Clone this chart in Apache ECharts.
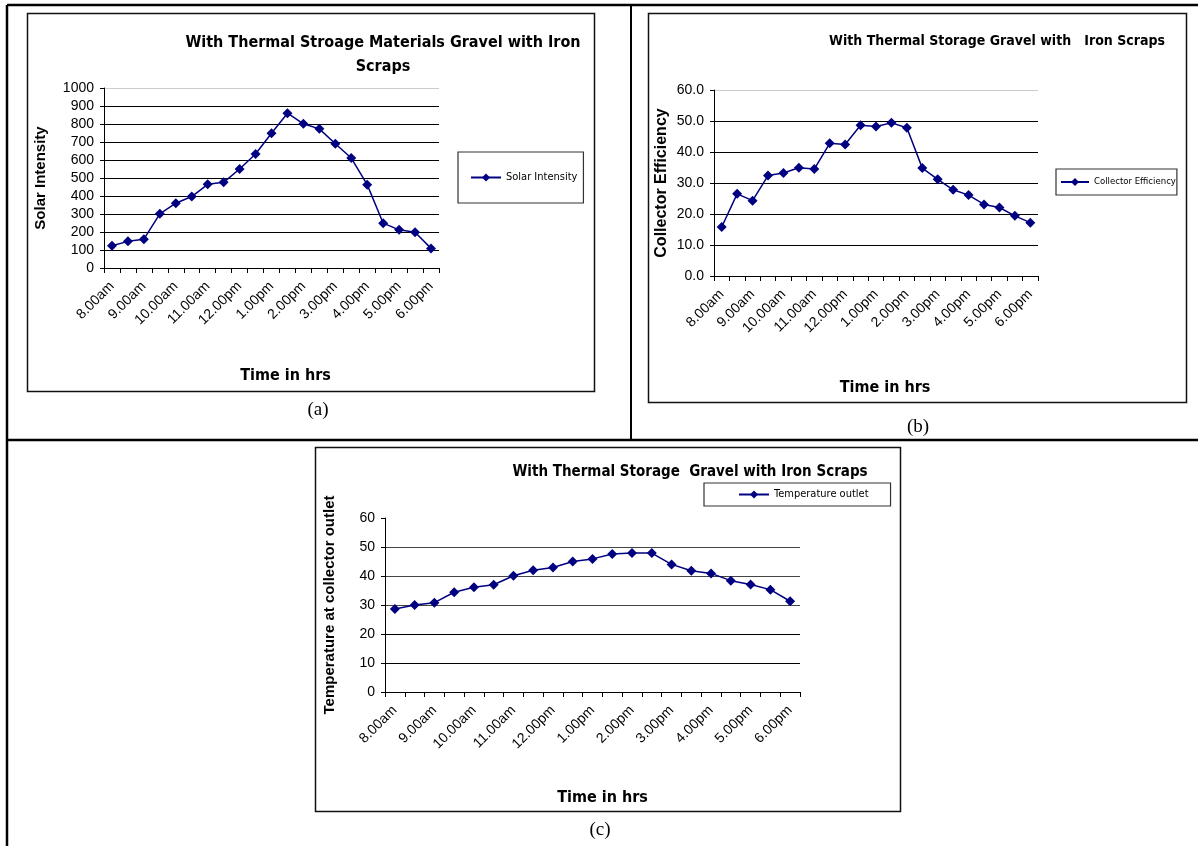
<!DOCTYPE html>
<html>
<head>
<meta charset="utf-8">
<script src="https://cdn.jsdelivr.net/npm/echarts@6/dist/echarts.min.js"></script>
<style>
  html, body { margin: 0; padding: 0; background: #fff; }
  #main { width: 1198px; height: 846px; }
</style>
</head>
<body>
<div id="main"></div>
<script>
// half-hour readings, 8.00am .. 6.00pm
var times = ['8.00am', '8.30am', '9.00am', '9.30am', '10.00am', '10.30am', '11.00am', '11.30am',
    '12.00pm', '12.30pm', '1.00pm', '1.30pm', '2.00pm', '2.30pm', '3.00pm', '3.30pm',
    '4.00pm', '4.30pm', '5.00pm', '5.30pm', '6.00pm'];

var solarIntensity = [124, 148, 160, 301, 360, 397, 465, 476, 550, 633, 749,
    860, 801, 773, 690, 611, 463, 249, 212, 199, 109];

var collectorEfficiency = [15.8, 26.5, 24.3, 32.4, 33.2, 34.9, 34.5, 42.8, 42.4, 48.6, 48.2,
    49.4, 47.8, 34.8, 31.2, 27.8, 26.1, 23.1, 22.1, 19.4, 17.2];

var tempOutlet = [28.6, 30.0, 30.8, 34.4, 36.1, 37.0, 40.1, 42.0, 42.9, 45.0, 45.9,
    47.6, 47.9, 47.9, 44.0, 41.8, 40.9, 38.4, 37.1, 35.3, 31.3];

var NARROW = "'Liberation Sans Narrow', 'DejaVu Sans Condensed', 'Liberation Sans', Arial, sans-serif";
var SANS = "'Liberation Sans', Arial, sans-serif";
var SERIF = "'Liberation Serif', 'Times New Roman', serif";
var NAVY = '#000080';

function xAxisFor(gridIndex, gap, shift) {
    return {
        type: 'category',
        gridIndex: gridIndex,
        data: times,
        boundaryGap: true,
        name: 'Time in hrs',
        nameLocation: 'middle',
        nameGap: gap,
        nameTextStyle: { fontFamily: NARROW, fontWeight: 'bold', fontSize: 16, color: '#000', padding: [0, 0, 0, shift] },
        axisLine: { lineStyle: { color: '#000', width: 1 } },
        axisTick: { show: true, interval: 0, length: 5, lineStyle: { color: '#000' } },
        axisLabel: { interval: 1, rotate: 45, margin: 16, fontFamily: SANS, fontSize: 14, color: '#000' },
        splitLine: { show: false }
    };
}

function yAxisFor(gridIndex, max, name, gap, nameSize, gridColors, fmt) {
    return {
        type: 'value',
        gridIndex: gridIndex,
        min: 0,
        max: max,
        interval: max / (max === 1000 ? 10 : 6),
        name: name,
        nameLocation: 'middle',
        nameGap: gap,
        nameTextStyle: { fontFamily: SANS, fontWeight: 'bold', fontSize: nameSize, color: '#000' },
        axisLine: { show: true, lineStyle: { color: '#000' } },
        axisTick: { show: true, length: 4, lineStyle: { color: '#000' } },
        axisLabel: { margin: 10, fontFamily: SANS, fontSize: 14, color: '#000', formatter: fmt },
        splitLine: { show: true, lineStyle: { color: gridColors, width: 1 } }
    };
}

function lineSeries(name, data, idx) {
    return {
        name: name,
        type: 'line',
        xAxisIndex: idx,
        yAxisIndex: idx,
        data: data,
        symbol: 'diamond',
        symbolSize: 10,
        itemStyle: { color: NAVY },
        lineStyle: { color: NAVY, width: 1.5 },
        animation: false
    };
}

var myChart = echarts.init(document.getElementById('main'));
myChart.setOption({
    backgroundColor: '#fff',
    animation: false,
    title: [
        {
            text: 'With Thermal Stroage Materials Gravel with Iron\nScraps',
            left: 378, top: 26, textAlign: 'center',
            textStyle: { fontFamily: NARROW, fontWeight: 'bold', fontSize: 16, lineHeight: 24, color: '#000', align: 'center' }
        },
        {
            text: 'With Thermal Storage Gravel with   Iron Scraps',
            left: 992, top: 29, textAlign: 'center',
            textStyle: { fontFamily: NARROW, fontWeight: 'bold', fontSize: 14, color: '#000' }
        },
        {
            text: 'With Thermal Storage  Gravel with Iron Scraps',
            left: 685, top: 460, textAlign: 'center',
            textStyle: { fontFamily: NARROW, fontWeight: 'bold', fontSize: 15, color: '#000' }
        }
    ],
    legend: [
        {
            data: ['Solar Intensity'], left: 458, top: 152, orient: 'vertical',
            padding: [20, 6, 20, 12], itemWidth: 30, itemHeight: 10, itemGap: 0,
            borderColor: '#333', borderWidth: 1.2,
            textStyle: { fontFamily: NARROW, fontSize: 11, color: '#000' }
        },
        {
            data: ['Collector Efficiency'], left: 1056, top: 169, orient: 'vertical',
            padding: [8, 1, 8, 4], itemWidth: 28, itemHeight: 10, itemGap: 0,
            borderColor: '#333', borderWidth: 1.2,
            textStyle: { fontFamily: NARROW, fontSize: 9.5, color: '#000' }
        },
        {
            data: ['Temperature outlet'], left: 704, top: 483, orient: 'vertical',
            padding: [6, 22, 6, 34], itemWidth: 30, itemHeight: 10, itemGap: 0,
            borderColor: '#333', borderWidth: 1.2,
            textStyle: { fontFamily: NARROW, fontSize: 11, color: '#000' }
        }
    ],
    grid: [
        { left: 104, top: 88, width: 335, height: 180 },
        { left: 714, top: 90, width: 324, height: 186 },
        { left: 385, top: 518, width: 415, height: 174 }
    ],
    xAxis: [
        xAxisFor(0, 100, 28),
        xAxisFor(1, 104, 18),
        xAxisFor(2, 98, 20)
    ],
    yAxis: [
        yAxisFor(0, 1000, 'Solar Intensity', 56, 15,
            ['#000', '#000', '#000', '#000', '#000', '#000', '#000', '#000', '#000', '#000', '#ccc'],
            function (v) { return String(v); }),
        yAxisFor(1, 60, 'Collector Efficiency', 44, 16,
            ['#000', '#000', '#000', '#000', '#000', '#000', '#ccc'],
            function (v) { return v.toFixed(1); }),
        yAxisFor(2, 60, 'Temperature at collector outlet', 48, 15,
            ['#000', '#000', '#000', '#444', '#444', '#444', 'rgba(0,0,0,0)'],
            function (v) { return String(v); })
    ],
    series: [
        lineSeries('Solar Intensity', solarIntensity, 0),
        lineSeries('Collector Efficiency', collectorEfficiency, 1),
        lineSeries('Temperature outlet', tempOutlet, 2)
    ],
    graphic: [
        // table rules
        { type: 'line', shape: { x1: 7, y1: 5, x2: 1198, y2: 5 }, style: { stroke: '#000', lineWidth: 2.5 } },
        { type: 'line', shape: { x1: 7, y1: 5, x2: 7, y2: 846 }, style: { stroke: '#000', lineWidth: 2.5 } },
        { type: 'line', shape: { x1: 631, y1: 5, x2: 631, y2: 440 }, style: { stroke: '#000', lineWidth: 2 } },
        { type: 'line', shape: { x1: 7, y1: 440, x2: 1198, y2: 440 }, style: { stroke: '#000', lineWidth: 2.5 } },
        // chart frames
        { type: 'rect', shape: { x: 27.5, y: 13.5, width: 567, height: 378 }, style: { fill: null, stroke: '#111', lineWidth: 1.5 } },
        { type: 'rect', shape: { x: 648.5, y: 13.5, width: 538, height: 389 }, style: { fill: null, stroke: '#111', lineWidth: 1.5 } },
        { type: 'rect', shape: { x: 315.5, y: 447.5, width: 585, height: 364 }, style: { fill: null, stroke: '#111', lineWidth: 1.5 } },
        // captions
        { type: 'text', x: 318, y: 410, style: { text: '(a)', font: '19px ' + SERIF, fill: '#000', textAlign: 'center', textVerticalAlign: 'middle' } },
        { type: 'text', x: 918, y: 427, style: { text: '(b)', font: '19px ' + SERIF, fill: '#000', textAlign: 'center', textVerticalAlign: 'middle' } },
        { type: 'text', x: 600, y: 830, style: { text: '(c)', font: '19px ' + SERIF, fill: '#000', textAlign: 'center', textVerticalAlign: 'middle' } }
    ]
});
</script>
</body>
</html>
